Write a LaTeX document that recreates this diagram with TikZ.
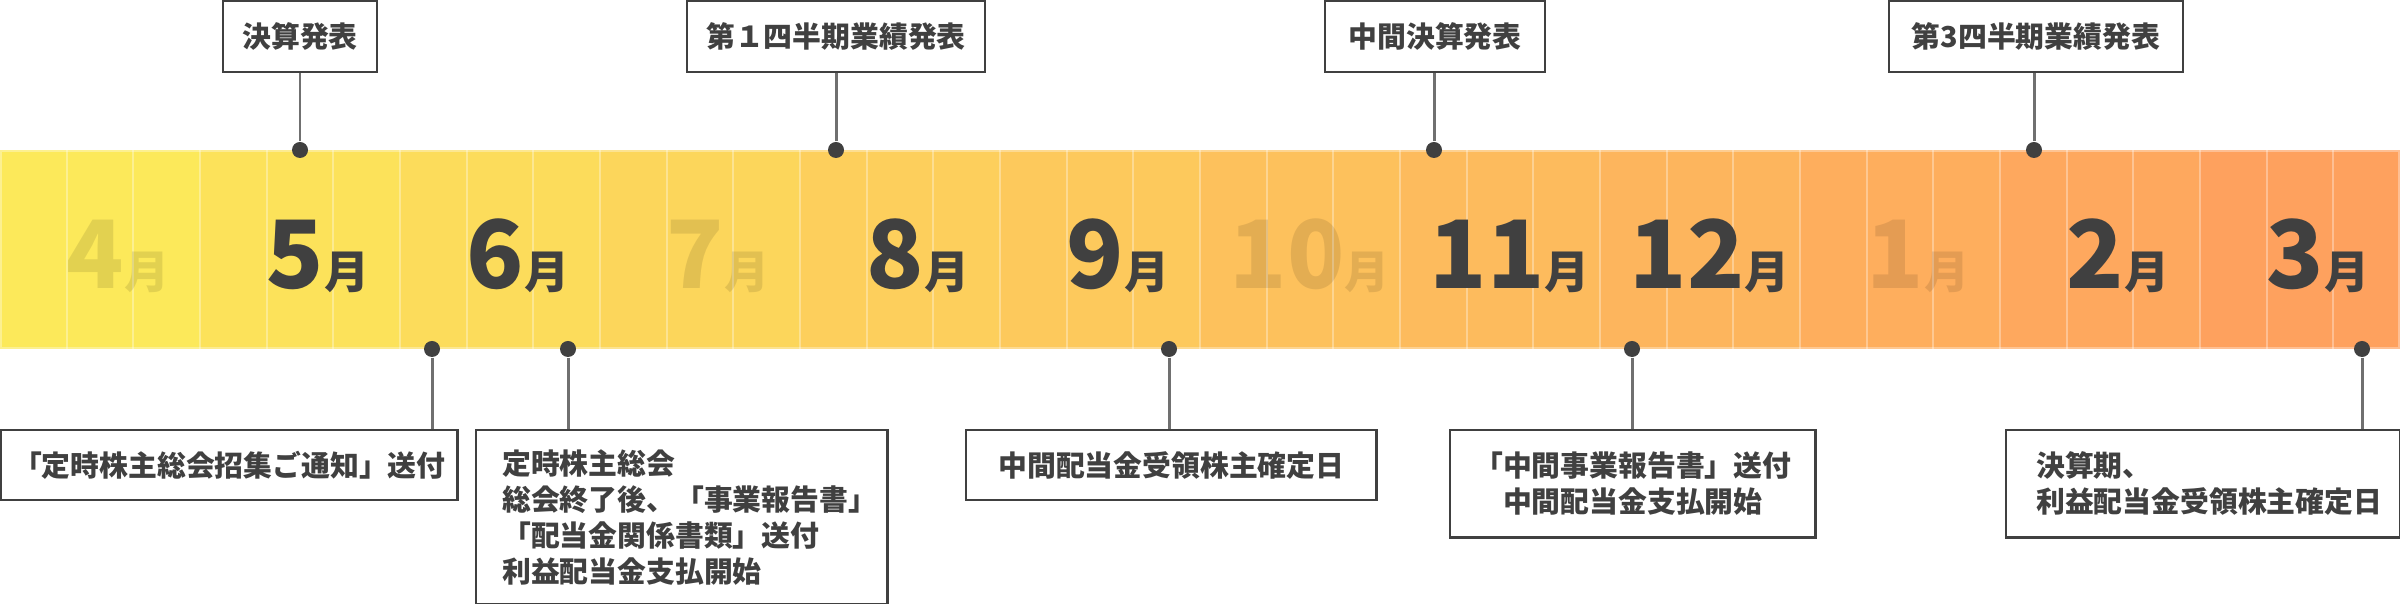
\documentclass[tikz,border=0pt]{standalone}
\usepackage{fontspec}
\setmainfont{Noto Sans CJK JP}
\definecolor{ink}{HTML}{404040}
\definecolor{linegray}{HTML}{707070}
\definecolor{cA}{RGB}{252,233,90}
\definecolor{cB}{RGB}{254,161,94}
\newcommand\boxfont{\bfseries\fontsize{8.2pt}{10.2pt}\selectfont}
\newcommand\mnum[1]{{\fontsize{26.8pt}{30pt}\selectfont #1}{\fontsize{12.8pt}{14pt}\selectfont 月}}
\tikzset{
  box/.style={draw=ink, line width=0.7pt, fill=white, text=ink, font=\boxfont, inner sep=0pt},
  conn/.style={draw=linegray, line width=0.85pt},
  dotnode/.style={circle, fill=ink, minimum size=0.16cm, inner sep=0pt},
  mlabel/.style={text=ink, anchor=base west, inner sep=0pt, font=\bfseries},
  faded/.style={text=black, text opacity=0.1},
  strong/.style={},
  cellline/.style={draw=white, draw opacity=0.33, line width=0.5pt}
}
\begin{document}
\begin{tikzpicture}[x=0.01cm, y=-0.01cm]
\useasboundingbox (0,0) rectangle (2400,604);
% band
\foreach \i in {0,...,11}{
  \pgfmathtruncatemacro\p{round(\i*100/11)}
  \fill[cB!\p!cA] (200*\i,150) rectangle ++(200,199);
}
\foreach \k in {1,...,35}{
  \draw[cellline] ({\k*200/3},150) -- ({\k*200/3},349);
}
\draw[cellline] (1,151) rectangle (2399,348);
% month labels
\foreach \i/\lab/\dx/\st in {0/4/66/faded,1/5/66/strong,2/6/66/strong,3/7/66/faded,4/8/66/strong,5/9/66/strong,6/10/29/faded,7/11/29/strong,8/12/29/strong,9/1/66/faded,10/2/66/strong,11/3/66/strong}{
  \node[mlabel,\st] (m\i) at (200*\i+\dx,289) {\mnum{\lab}};
}
% top boxes
\node[box, anchor=north, minimum width=1.54cm, minimum height=0.71cm] (t1) at (300,0) {決算発表};
\node[box, anchor=north, minimum width=2.98cm, minimum height=0.71cm] (t2) at (836,0) {第１四半期業績発表};
\node[box, anchor=north, minimum width=2.20cm, minimum height=0.71cm] (t3) at (1435,0) {中間決算発表};
\node[box, anchor=north, minimum width=2.94cm, minimum height=0.71cm] (t4) at (2036,0) {第3四半期業績発表};
% top dots
\node[dotnode] (d1) at (300,150) {};
\node[dotnode] (d2) at (836,150) {};
\node[dotnode] (d3) at (1434,150) {};
\node[dotnode] (d4) at (2034,150) {};
\foreach \d/\t in {d1/t1,d2/t2,d3/t3,d4/t4}{
  \draw[conn] (\d.north) -- (\d |- \t.south);
}
% bottom boxes
\node[box, anchor=north west, minimum width=4.56cm, minimum height=0.70cm] (b1) at (0,429) {「定時株主総会招集ご通知」送付};
\node[box, anchor=north west, minimum width=4.11cm, minimum height=1.74cm, text width=3.59cm, inner xsep=0.26cm, align=left] (b2) at (475,429) {定時株主総会\\総会終了後、「事業報告書」\\「配当金関係書類」送付\\利益配当金支払開始};
\node[box, anchor=north west, minimum width=4.10cm, minimum height=0.70cm] (b3) at (965,429) {中間配当金受領株主確定日};
\node[box, anchor=north west, minimum width=3.65cm, minimum height=1.07cm, align=center] (b4) at (1449,429) {「中間事業報告書」送付\\中間配当金支払開始};
\node[box, anchor=north west, minimum width=3.94cm, minimum height=1.07cm, text width=3.34cm, inner xsep=0.30cm, align=left] (b5) at (2005,429) {決算期、\\利益配当金受領株主確定日};
% bottom dots
\node[dotnode] (e1) at (432,349) {};
\node[dotnode] (e2) at (568,349) {};
\node[dotnode] (e3) at (1169,349) {};
\node[dotnode] (e4) at (1632,349) {};
\node[dotnode] (e5) at (2362,349) {};
\foreach \d/\b in {e1/b1,e2/b2,e3/b3,e4/b4,e5/b5}{
  \draw[conn] (\d.south) -- (\d |- \b.north);
}
\end{tikzpicture}
\end{document}
